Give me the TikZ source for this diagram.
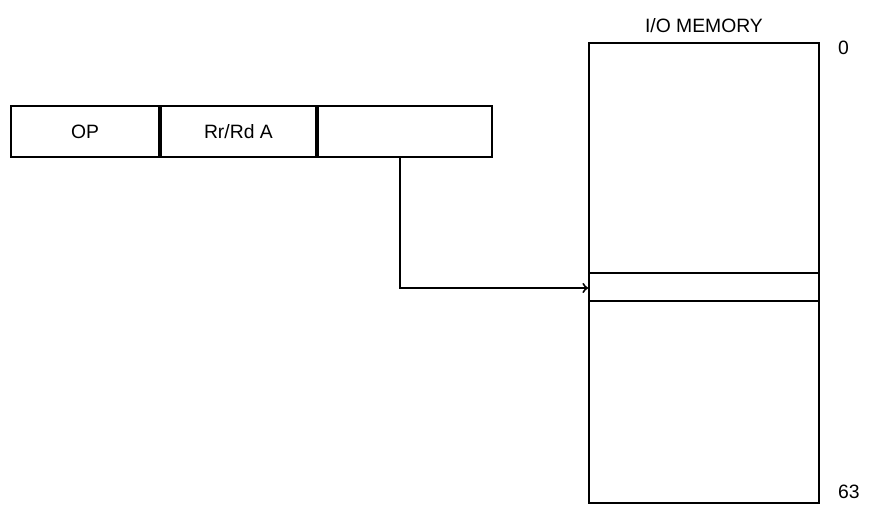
\documentclass[tikz,border=0pt]{standalone}
\usepackage{fontspec}
\setmainfont{Liberation Sans}
\usetikzlibrary{positioning}

\begin{document}
\begin{tikzpicture}[x=0.02cm,y=-0.02cm,
    field/.style={draw,line width=1.1pt,minimum height=51*0.02cm,inner sep=0pt,font=\fontsize{11}{13}\selectfont},
    lbl/.style={font=\fontsize{11}{13}\selectfont}]
    \useasboundingbox (0,0) rectangle (870,507);
    % instruction word
    \node[field,minimum width=148*0.02cm,anchor=north west] (op) at (10,105) {OP};
    \node[field,minimum width=155*0.02cm,anchor=west] (reg) at (op.east) {Rr/Rd A};
    \node[field,minimum width=174*0.02cm,anchor=west] (addr) at (reg.east) {};
    % memory
    \node[draw,line width=1.1pt,minimum width=230*0.02cm,minimum height=460*0.02cm,anchor=north west,inner sep=0pt] (mem) at (588,42) {};
    \node[lbl,above=2pt of mem.north] (title) {I/O MEMORY};
    \node[lbl,anchor=west] (top) at (832,48) {0};
    \node[lbl,anchor=west] (bot) at (832,492) {63};
    \draw[line width=0.9pt] (588,273) -- (818,273);
    \draw[line width=0.9pt] (588,301) -- (818,301);
    \coordinate (tap) at (400,156);
    \coordinate (bend) at (400,288);
    \coordinate (hit) at (588,288);
    \draw[line width=1.1pt,->] (tap) -- (bend) -- (hit);
\end{tikzpicture}
\end{document}
